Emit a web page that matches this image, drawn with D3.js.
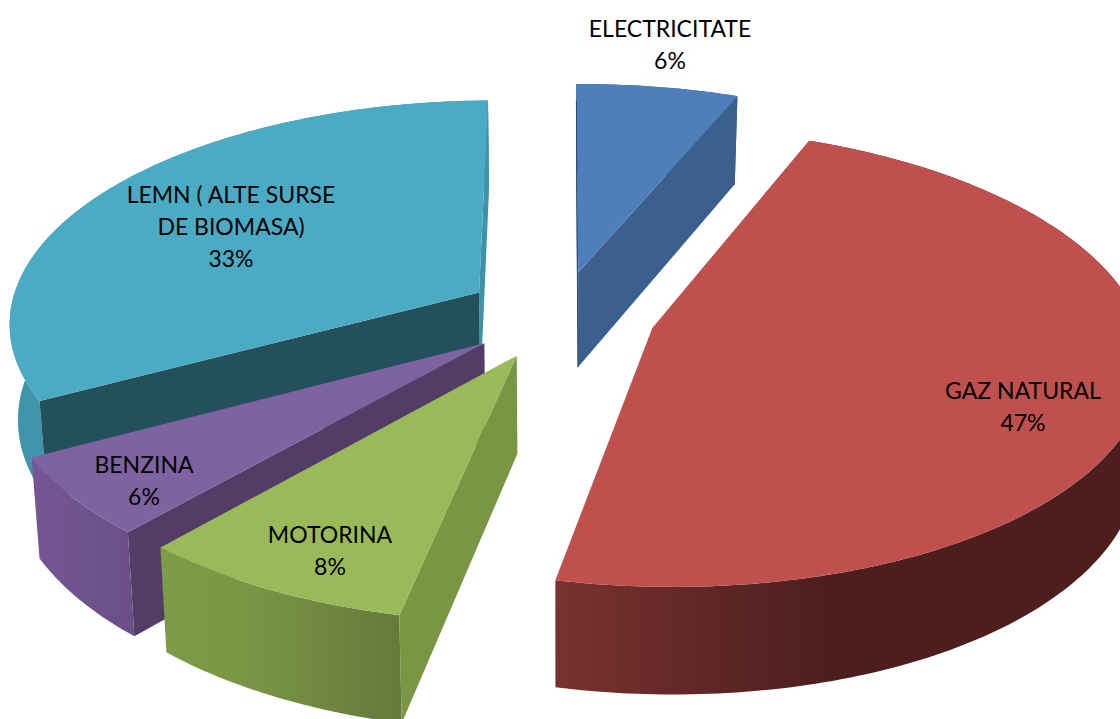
<!DOCTYPE html>
<html lang="en">
<head>
  <meta charset="UTF-8" />
  <title>Pie 3D</title>
  <script src="https://cdnjs.cloudflare.com/ajax/libs/d3/7.8.2/d3.min.js"></script>
  <style>
    body { margin: 0; background: #fff; }
    svg { display: block; }
    text { font-family: Lato, "Open Sans", sans-serif; font-size: 23px; fill: #000; text-anchor: middle; }
  </style>
</head>
<body>
<svg id="chart" width="1120" height="719"></svg>
<script>
// data: shares, the labels carry the rounded figures
const categories = ["ELECTRICITATE", "GAZ NATURAL", "MOTORINA", "BENZINA", "LEMN ( ALTE SURSE DE BIOMASA)"];
const shares = [6.25, 46.95, 8.2, 5.7, 32.9];

// styles and layout, same order as categories
const topColors = ["#4f7fba", "#bf504e", "#9aba59", "#7f63a0", "#4babc5"];
const cutColors = ["#3b608d", "#3b1a1a", "#7a9645", "#523d66", "#24505c"];
const endColors = ["#3b608d", "#3b1a1a", "#7a9645", "#523d66", "#3f93a9"];
const wallStops = [
  [["#3b608d", 0], ["#3b608d", 1]],
  [["#78322f", 0], ["#4c1e1e", 0.5], ["#4c1e1e", 1]],
  [["#7e9b48", 0], ["#7a9645", 0.35], ["#64783a", 1]],
  [["#735693", 0], ["#6a4f85", 1]],
  [["#4095aa", 0], ["#4095aa", 1]]
];
const wallSpan = [[575, 740], [555, 1100], [160, 405], [36, 135], [8, 490]];
const labelLines = [["ELECTRICITATE", "6%"], ["GAZ NATURAL", "47%"], ["MOTORINA", "8%"], ["BENZINA", "6%"], ["LEMN ( ALTE SURSE", "DE BIOMASA)", "33%"]];
const labelAnchors = [[670, 29], [1023, 391], [330, 535], [144, 465], [231, 195]];
const lineGap = 32;
const drawOrder = [4, 0, 1, 3, 2];

// projection: the pie lies on a ground plane seen in perspective
const explode = 0.2;      // slice pull-out, in radii
const persp = 0.126;      // foreshortening along depth
const skew = 0.012;       // camera sits a little to the right
const thickness = 96.5;   // wall height at scale 1
const bottomShrink = 0.985;
const xScale = d3.scaleLinear().domain([-1, 1]).range([560 - 478, 560 + 478]);
const yScale = d3.scaleLinear().domain([-1, 1]).range([315 - 222, 315 + 222]);

function project(X, Y, bottom) {
  const s = 1 / (1 - persp * Y - skew * X);
  const k = bottom ? bottomShrink : 1;
  const x = xScale(0) + (xScale(X * s) - xScale(0)) * k;
  const y = yScale(0) + (yScale(Y * s) - yScale(0)) * k + (bottom ? thickness * s : 0);
  return [x, y];
}

const svg = d3.select("#chart");
const defs = svg.append("defs");
const line = d3.line();
const pie = d3.pie().sort(null).value(d => d);
const arcs = pie(shares);

function slicePoint(d, angle, r, bottom) {
  const mid = (d.startAngle + d.endAngle) / 2;
  const X = explode * Math.sin(mid) + r * Math.sin(angle);
  const Y = -explode * Math.cos(mid) - r * Math.cos(angle);
  return project(X, Y, bottom);
}

function rim(d, bottom) {
  const n = Math.ceil((d.endAngle - d.startAngle) * 60);
  const angle = d3.scaleLinear().domain([0, n]).range([d.startAngle, d.endAngle]);
  return d3.range(n + 1).map(i => slicePoint(d, angle(i), 1, bottom));
}

function radialFace(d, angle) {
  return [
    slicePoint(d, angle, 0, false),
    slicePoint(d, angle, 1, false),
    slicePoint(d, angle, 1, true),
    slicePoint(d, angle, 0, true)
  ];
}

drawOrder.forEach(i => {
  const d = arcs[i];
  const g = svg.append("g").attr("class", "slice");

  const grad = defs.append("linearGradient")
    .attr("id", "wall" + i)
    .attr("gradientUnits", "userSpaceOnUse")
    .attr("x1", wallSpan[i][0]).attr("x2", wallSpan[i][1])
    .attr("y1", 0).attr("y2", 0);
  wallStops[i].forEach(s => grad.append("stop").attr("stop-color", s[0]).attr("offset", s[1]));

  // outer wall
  const wall = rim(d, false).concat(rim(d, true).reverse());
  g.append("path").attr("d", line(wall) + "Z").attr("fill", `url(#wall${i})`);

  // cut faces, only the ones turned towards the viewer
  const endFace = radialFace(d, d.endAngle);
  const startFace = radialFace(d, d.startAngle);
  if (d3.polygonArea(endFace) < 0) {
    g.append("path").attr("d", line(endFace) + "Z").attr("fill", endColors[i]);
  }
  if (d3.polygonArea(startFace) > 0) {
    g.append("path").attr("d", line(startFace) + "Z").attr("fill", cutColors[i]);
  }

  // top
  const top = [slicePoint(d, 0, 0, false)].concat(rim(d, false));
  g.append("path").attr("d", line(top) + "Z").attr("fill", topColors[i]);

  // blue slice has a hairline shadow along its back edge
  if (i === 0) {
    g.append("path")
      .attr("d", line([slicePoint(d, d.startAngle, 0.9, false), slicePoint(d, d.startAngle, 0, true)]))
      .attr("stroke", "#2b4a70").attr("stroke-width", 1).attr("fill", "none");
  }
});

// labels
labelLines.forEach((lines, i) => {
  const t = svg.append("text").attr("x", labelAnchors[i][0]).attr("y", labelAnchors[i][1]);
  lines.forEach((s, j) => {
    t.append("tspan")
      .attr("x", labelAnchors[i][0])
      .attr("y", labelAnchors[i][1] + j * lineGap)
      .attr("dy", "0.35em")
      .text(s);
  });
});
</script>
</body>
</html>
